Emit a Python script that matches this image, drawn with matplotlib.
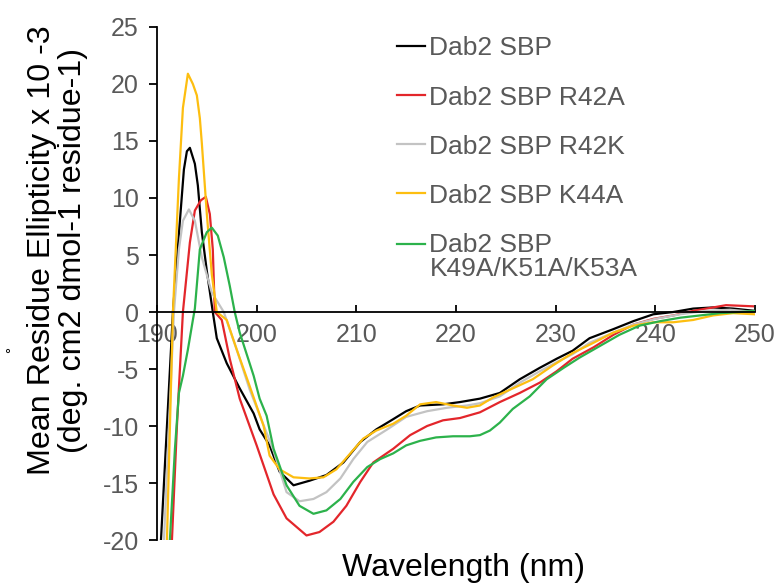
import matplotlib
matplotlib.use("Agg")
import matplotlib.pyplot as plt
from matplotlib.legend_handler import HandlerLine2D

plt.rcParams['font.family'] = ['Liberation Sans', 'DejaVu Sans']
plt.rcParams['axes.unicode_minus'] = False

# wavelength (nm) / ellipticity
wl_black = [190.3, 190.4, 191.0, 191.6, 192.3, 192.7, 193.0, 193.3, 193.8, 194.1, 194.5,
            195.0, 195.6, 196.0, 197.0, 198.3, 199.7, 200.3, 201.3, 202.3, 203.7, 205.3,
            207.0, 208.7, 210.4, 212.0, 213.7, 215.0, 216.4, 218.7, 220.4, 222.4, 224.4,
            226.4, 228.4, 230.1, 231.7, 233.4, 235.8, 237.8, 239.8, 241.8, 243.8, 245.8,
            247.8, 250.0]
y_black = [-21, -20, -10, 0, 8, 12.5, 14.1, 14.4, 13.0, 11.1, 7.0,
           3.6, 0, -2.3, -4.5, -6.7, -8.9, -10.3, -11.7, -14.0, -15.2, -14.8,
           -14.3, -13.2, -11.4, -10.3, -9.4, -8.7, -8.2, -8.1, -7.9, -7.6, -7.1,
           -5.9, -4.9, -4.1, -3.4, -2.3, -1.5, -0.8, -0.2, 0.0, 0.3, 0.4,
           0.3, 0.1]

wl_red = [191.4, 191.5, 192.0, 192.6, 193.3, 193.8, 194.4, 194.9, 195.3, 195.6, 195.8,
          196.5, 197.3, 198.3, 200.0, 201.7, 203.0, 205.0, 206.3, 207.7, 209.0, 210.4,
          211.7, 213.7, 215.4, 217.1, 218.7, 220.4, 222.4, 224.4, 226.4, 228.4, 230.1,
          231.7, 233.8, 235.8, 237.8, 239.8, 241.8, 243.8, 245.8, 247.1, 249.8]
y_red = [-21, -20, -10, 0, 6.1, 8.9, 9.8, 10.1, 8.6, 5.5, 0,
         -0.7, -4.1, -7.6, -11.7, -16.0, -18.1, -19.6, -19.3, -18.4, -17.0, -14.9,
         -13.2, -12.0, -10.8, -10.0, -9.5, -9.3, -8.8, -7.9, -7.1, -6.2, -5.2,
         -4.1, -3.1, -2.0, -1.1, -0.6, -0.3, 0.1, 0.4, 0.6, 0.5]

wl_grey = [190.6, 190.7, 191.2, 191.7, 192.2, 192.6, 193.2, 193.8, 194.5, 195.5, 196.7,
           198.0, 199.3, 201.0, 201.7, 203.0, 204.3, 205.7, 207.0, 208.4, 209.7, 211.1,
           213.1, 215.0, 217.1, 219.1, 221.1, 222.4, 224.4, 226.4, 228.4, 230.1, 231.7,
           233.4, 235.8, 237.8, 240.0, 242.5, 245.0, 247.5, 250.0]
y_grey = [-21, -20, -10, 0, 5.5, 8.0, 9.0, 8.0, 4.8, 1.7, 0,
          -3.3, -6.8, -10.6, -12.2, -15.8, -16.6, -16.4, -15.8, -14.6, -12.9, -11.4,
          -10.3, -9.2, -8.7, -8.4, -8.2, -8.0, -7.4, -6.2, -5.2, -4.4, -3.7,
          -2.7, -1.8, -1.1, -0.6, -0.2, 0.1, 0.2, 0.0]

wl_yellow = [190.9, 191.0, 191.3, 191.6, 192.2, 192.6, 193.1, 193.6, 194.0, 194.3, 194.5,
             195.0, 195.5, 196.0, 197.0, 198.0, 199.3, 200.7, 201.3, 202.3, 203.7, 205.3,
             206.7, 208.0, 209.4, 210.7, 212.0, 213.7, 215.0, 216.4, 218.0, 219.7, 221.1,
             222.4, 223.7, 225.7, 227.7, 229.7, 231.7, 233.8, 235.8, 237.8, 239.8, 241.8,
             243.8, 245.8, 247.8, 250.0]
y_yellow = [-21, -20, -10, 0, 11.7, 17.9, 20.9, 20.0, 19.0, 17.0, 14.8,
            8.6, 3.3, 0, -0.7, -3.3, -6.5, -10.0, -12.6, -13.8, -14.5, -14.6,
            -14.5, -13.8, -12.4, -11.1, -10.4, -9.8, -9.1, -8.1, -7.9, -8.2, -8.4,
            -8.2, -7.5, -6.7, -5.9, -4.7, -3.6, -2.7, -1.8, -1.2, -0.9, -0.9,
            -0.7, -0.3, -0.1, -0.2]

wl_green = [191.2, 191.3, 191.8, 192.2, 192.6, 193.1, 193.6, 193.8, 194.3, 195.0, 195.5,
            196.1, 196.7, 197.3, 197.8, 198.3, 199.7, 200.3, 201.0, 201.7, 203.0, 204.3,
            205.7, 207.0, 208.4, 209.7, 211.1, 212.4, 213.7, 215.0, 216.4, 218.0, 219.7,
            221.4, 222.4, 223.4, 224.4, 225.7, 227.4, 229.1, 230.8, 232.4, 234.4, 236.4,
            238.4, 240.5, 242.5, 244.5, 246.5, 248.5, 250.0]
y_green = [-21, -19.9, -12.0, -7.1, -5.6, -3.3, -0.7, 0.3, 5.5, 7.0, 7.4,
           6.7, 4.8, 2.3, 0, -1.8, -5.6, -7.6, -9.1, -12.0, -15.2, -17.0,
           -17.7, -17.4, -16.4, -14.9, -13.6, -12.9, -12.4, -11.7, -11.3, -11.0, -10.9,
           -10.9, -10.8, -10.4, -9.7, -8.5, -7.4, -5.9, -4.9, -4.0, -3.0, -2.0,
           -1.2, -0.8, -0.5, -0.3, -0.1, 0.0, 0.1]

series = [
    (wl_black, y_black, "#000000", "Dab2 SBP"),
    (wl_red, y_red, "#e3262b", "Dab2 SBP R42A"),
    (wl_grey, y_grey, "#c3c3c3", "Dab2 SBP R42K"),
    (wl_yellow, y_yellow, "#fdbe10", "Dab2 SBP K44A"),
    (wl_green, y_green, "#2cb24b", "Dab2 SBP\nK49A/K51A/K53A"),
]


class FirstLineHandler(HandlerLine2D):
    # put the legend line next to the first line of a two-line label
    def create_artists(self, legend, orig_handle, xdescent, ydescent,
                       width, height, fontsize, trans):
        arts = super().create_artists(legend, orig_handle, xdescent, ydescent,
                                      width, height, fontsize, trans)
        for a in arts:
            a.set_ydata([v + 0.5 * fontsize for v in a.get_ydata()])
        return arts


fig = plt.figure(figsize=(7.83, 5.88), dpi=100)
ax = fig.add_axes([0.2005, 0.0816, 0.7637, 0.8725])

lines = []
for wl, y, c, lab in series:
    ln, = ax.plot(wl, y, color=c, lw=1.6, label=lab)
    lines.append(ln)

ax.set_xlim(190, 250)
ax.set_ylim(-20, 25)
ax.set_xticks(range(190, 251, 10))
ax.set_yticks(range(-20, 26, 5))

ax.spines['top'].set_visible(False)
ax.spines['right'].set_visible(False)
ax.spines['bottom'].set_position(('data', 0))
ax.spines['left'].set_linewidth(1.3)
ax.spines['bottom'].set_linewidth(1.3)

ax.tick_params(axis='x', direction='in', length=5, width=1.3, pad=8,
               labelsize=18, labelcolor='#595959')
ax.tick_params(axis='y', direction='out', length=6, width=1.3, pad=7,
               labelsize=18, labelcolor='#595959')

ax.set_xlabel("Wavelength (nm)", fontsize=23)
ax.xaxis.set_label_coords(0.513, -0.026)
ax.xaxis.label.set_va('top')
ax.set_ylabel("Mean Residue Ellipticity x 10 -3\n(deg. cm2 dmol-1 residue-1)",
              fontsize=23.2, linespacing=1.05)
ax.yaxis.set_label_coords(-0.115, 0.565)

fig.text(12 / 783, 1 - 350 / 588, "°", rotation=90, fontsize=11,
         ha='center', va='center')

leg = ax.legend(loc='upper left', bbox_to_anchor=(0.507, 0.938),
                bbox_transform=fig.transFigure, frameon=False,
                fontsize=19, handlelength=1.05, handletextpad=0.18,
                labelspacing=0.95, borderpad=0, borderaxespad=0,
                handler_map={lines[4]: FirstLineHandler()})
for t in leg.get_texts():
    t.set_color('#595959')
    t.set_linespacing(1.0)

fig.savefig("out.png", dpi=100)
